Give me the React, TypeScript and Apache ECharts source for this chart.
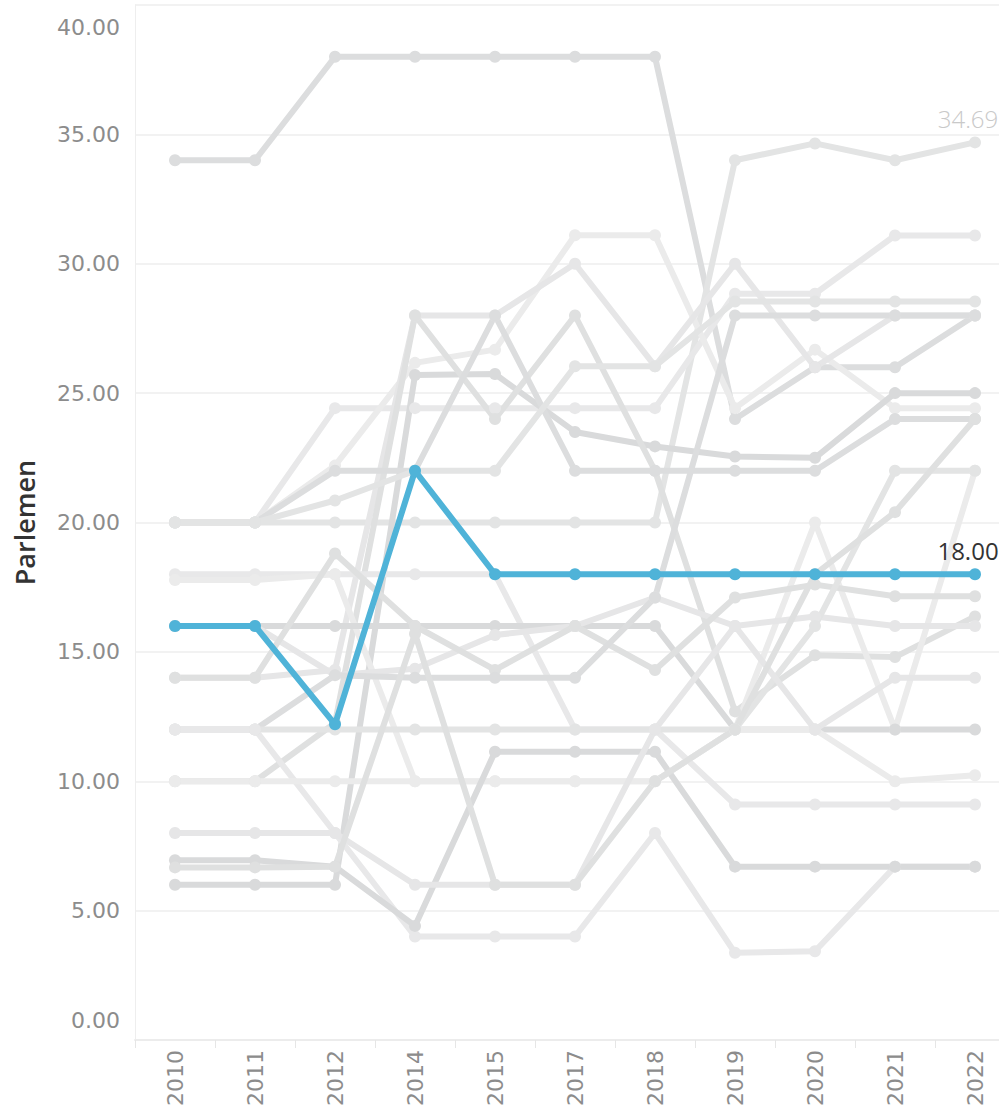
import React, { useEffect, useRef } from "react";
import * as echarts from "echarts";

const years = ["2010", "2011", "2012", "2014", "2015", "2017", "2018", "2019", "2020", "2021", "2022"];
const yTicks = [0, 5, 10, 15, 20, 25, 30, 35, 40];

const highlighted = [16, 16, 12.2, 22, 18, 18, 18, 18, 18, 18, 18];

const g01 = [34, 34, 38, 38, 38, 38, 38, 24, 26, 26, 28];
const g02 = [20, 20, 20, 20, 20, 20, 20, 34, 34.65, 34, 34.69];
const g03 = [20, 20, 24.42, 24.42, 24.42, 24.42, 24.42, 28.84, 28.84, 31.09, 31.09];
const g04 = [20, 20, 22.2, 26.17, 26.68, 31.1, 31.1, 24.42, 26.68, 24.42, 24.42];
const g05 = [6, 6, 6, 25.7, 25.74, 23.5, 22.94, 22.55, 22.5, 25, 25];
const g06 = [14, 14, 14.3, 28, 28, 30, 26.04, 30, 26, 28, 28];
const g07 = [10, 10, 12.25, 28, 24, 28, 22, 12.7, 14.87, 14.8, 16.37];
const g08 = [20, 20, 22, 22, 28, 22, 22, 22, 22, 24, 24];
const g09 = [20, 20, 20.85, 22, 22, 26.04, 26.04, 28.54, 28.54, 28.54, 28.54];
const g10 = [18, 18, 18, 18, 18, 12, 12, 9.1, 9.1, 9.1, 9.1];
const g11 = [17.78, 17.78, 18, 10, 10, 10, 10, 12, 20, 12, 22];
const g12 = [16, 16, 16, 16, 16, 16, 16, 12, 12, 12, 12];
const g13 = [16, 16, 14.1, 14.35, 15.65, 16, 17.1, 16, 16.37, 16, 16];
const g14 = [14, 14, 18.8, 16, 14.3, 16, 14.3, 17.1, 17.6, 17.15, 17.15];
const g15 = [12, 12, 14.1, 14, 14, 14, 17.1, 28, 28, 28, 28];
const g16 = [12, 12, 12, 12, 12, 12, 12, 12, 16, 22, 22];
const g17 = [12, 12, 8, 4, 4, 4, 8, 3.37, 3.43, 6.7, 6.7];
const g18 = [10, 10, 10, 10, 10, 10, 10, 12, 12, 10, 10.23];
const g19 = [6.95, 6.95, 6.7, 4.41, 11.14, 11.14, 11.14, 6.7, 6.7, 6.7, 6.7];
const g20 = [8, 8, 8, 6, 6, 6, 12, 16, 12, 14, 14];
const g21 = [6.67, 6.67, 6.7, 15.7, 6, 6, 10, 12, 18, 20.4, 24];

const greySeries = [g01, g02, g03, g04, g05, g06, g07, g08, g09, g10, g11, g12, g13, g14, g15, g16, g17, g18, g19, g20, g21];
const greyShades = ["#dcddde", "#e3e4e4", "#e8e8e9", "#ebebeb", "#d9dadb", "#e6e6e7", "#dfe0e0"];

export default function App() {
  const ref = useRef<HTMLDivElement>(null);
  useEffect(() => {
    if (!ref.current) return;
    const chart = echarts.init(ref.current, undefined, { renderer: "svg" });
    const lastIdx = years.length - 1;
    const series: any[] = greySeries.map((d, i) => ({
      type: "line",
      name: "g" + i,
      data: d,
      symbol: "circle",
      symbolSize: 12,
      lineStyle: { width: 6, color: greyShades[i % greyShades.length] },
      itemStyle: { color: greyShades[i % greyShades.length] },
      z: 2,
      label: {
        show: d === g02,
        position: "top",
        distance: 6,
        offset: [-7, 0],
        fontFamily: "Open Sans",
        fontWeight: 300,
        fontSize: 24,
        color: "#c9c9c9",
        formatter: (p: any) => (p.dataIndex === lastIdx ? p.value.toFixed(2) : ""),
      },
    }));
    series.push({
      type: "line",
      name: "highlight",
      data: highlighted,
      symbol: "circle",
      symbolSize: 12,
      lineStyle: { width: 6, color: "#4fb3d8" },
      itemStyle: { color: "#4fb3d8" },
      z: 5,
      label: {
        show: true,
        position: "top",
        distance: 6,
        fontFamily: "Open Sans",
        fontSize: 24,
        color: "#333333",
        offset: [-7, 0],
        formatter: (p: any) => (p.dataIndex === lastIdx ? p.value.toFixed(2) : ""),
      },
    });
    chart.setOption({
      animation: false,
      backgroundColor: "#ffffff",
      grid: { left: 135, top: 5, bottom: 75, right: 1, containLabel: false },
      xAxis: {
        type: "category",
        data: years,
        boundaryGap: true,
        axisLine: { show: true, lineStyle: { color: "#ececec", width: 2 } },
        axisTick: { show: true, length: 8, lineStyle: { color: "#e6e6e6", width: 1 } },
        axisLabel: {
          rotate: 90,
          margin: 10,
          fontFamily: "DejaVu Sans",
          fontSize: 22,
          color: "#8c8c8c",
        },
        splitLine: { show: false },
      },
      yAxis: {
        type: "value",
        min: 0,
        max: 40,
        interval: 5,
        name: "Parlemen",
        nameLocation: "middle",
        nameRotate: 90,
        nameGap: 97,
        nameTextStyle: { fontFamily: "Open Sans", fontWeight: 600, fontSize: 27, color: "#333333" },
        axisLine: { show: true, lineStyle: { color: "#eeeeee", width: 1 } },
        axisTick: { show: false },
        splitLine: { show: true, lineStyle: { color: "#f2f2f2", width: 2 } },
        axisLabel: {
          margin: 15,
          fontFamily: "DejaVu Sans",
          fontSize: 22,
          color: "#8c8c8c",
          formatter: (v: number) => {
            if (v === yTicks[yTicks.length - 1]) return "{top|" + v.toFixed(2) + "}";
            if (v === yTicks[0]) return "{bot|" + v.toFixed(2) + "}";
            return v.toFixed(2);
          },
          rich: {
            top: { fontFamily: "DejaVu Sans", fontSize: 22, color: "#8c8c8c", padding: [44, 0, 0, 0] },
            bot: { fontFamily: "DejaVu Sans", fontSize: 22, color: "#8c8c8c", padding: [0, 0, 40, 0] },
          },
        },
      },
      series,
    });
    return () => chart.dispose();
  }, []);
  return <div ref={ref} style={{ position: "fixed", left: 0, top: 0, width: 1016, height: 1115 }} />;
}
